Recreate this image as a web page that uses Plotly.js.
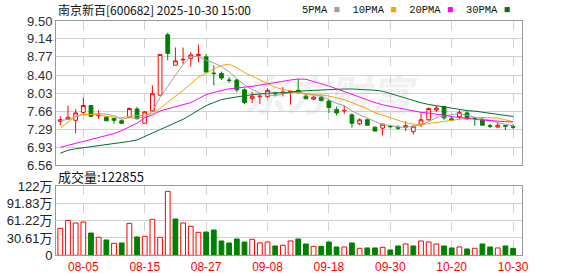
<!DOCTYPE html>
<html><head><meta charset="utf-8">
<script src="https://cdn.plot.ly/plotly-3.0.1.min.js"></script>
<style>html,body{margin:0;padding:0;background:#fff}#chart{width:578px;height:276px}</style>
</head><body><div id="chart"></div>
<script>
const dates = ['07-31','08-01','08-04','08-05','08-06','08-07','08-08','08-11','08-12','08-13','08-14','08-15',
  '08-18','08-19','08-20','08-21','08-22','08-25','08-26','08-27','08-28','08-29','09-01','09-02','09-03','09-04',
  '09-05','09-08','09-09','09-10','09-11','09-12','09-15','09-16','09-17','09-18','09-19','09-22','09-23','09-24',
  '09-25','09-26','09-29','09-30','10-09','10-10','10-13','10-14','10-15','10-16','10-17','10-20','10-21','10-22',
  '10-23','10-24','10-27','10-28','10-29','10-30'];
const openP  = [7.46,7.50,7.48,7.64,7.78,7.57,7.54,7.52,7.47,7.54,7.71,7.42,7.67,7.99,9.22,8.60,8.71,8.74,8.80,8.77,
  8.44,8.43,8.30,8.30,8.10,7.92,7.96,7.96,8.03,8.04,8.05,8.09,7.97,7.91,7.95,7.87,7.70,7.67,7.59,7.41,
  7.49,7.34,7.32,7.36,7.34,7.34,7.25,7.40,7.49,7.69,7.76,7.51,7.55,7.63,7.53,7.49,7.37,7.34,7.37,7.35];
const highP  = [7.56,7.78,7.71,7.94,7.79,7.69,7.57,7.52,7.50,7.74,7.75,7.67,8.19,8.82,9.26,8.96,8.96,8.87,9.02,8.83,
  8.60,8.47,8.36,8.33,8.13,8.06,8.01,8.13,8.06,8.16,8.08,8.32,8.03,7.98,7.98,7.90,7.76,7.78,7.62,7.52,
  7.52,7.35,7.41,7.38,7.38,7.46,7.37,7.62,7.74,7.77,7.77,7.55,7.69,7.66,7.55,7.55,7.41,7.44,7.37,7.40];
const lowP   = [7.38,7.49,7.21,7.61,7.54,7.50,7.46,7.41,7.40,7.54,7.50,7.42,7.66,7.99,8.70,8.60,8.62,8.57,8.66,8.46,
  8.19,8.30,8.24,8.05,7.81,7.83,7.81,7.93,7.97,7.97,7.80,8.03,7.90,7.89,7.87,7.63,7.58,7.61,7.33,7.38,
  7.38,7.26,7.17,7.31,7.29,7.26,7.19,7.34,7.47,7.65,7.49,7.47,7.50,7.50,7.37,7.37,7.32,7.34,7.28,7.30];
const closeP = [7.49,7.54,7.63,7.78,7.56,7.58,7.47,7.48,7.42,7.72,7.51,7.65,8.02,8.82,8.84,8.69,8.72,8.81,8.82,8.46,
  8.43,8.34,8.29,8.10,7.84,7.97,7.97,8.09,8.02,8.05,8.07,8.04,7.92,7.95,7.88,7.74,7.63,7.68,7.42,7.49,
  7.38,7.26,7.40,7.35,7.32,7.37,7.36,7.49,7.72,7.73,7.53,7.49,7.64,7.51,7.52,7.38,7.36,7.38,7.36,7.34];
// volume in 万 (10k lots)
const volume = [47.7,61.8,57.1,58.9,39.4,31.8,27.1,21.2,21.8,56.5,32.4,33.6,63.6,31.8,113.0,64.2,57.1,51.2,40.6,41.2,
  44.7,25.3,21.8,28.8,23.5,28.3,21.8,23.5,16.5,17.7,25.3,28.8,20.0,15.9,15.9,23.5,14.7,14.7,21.8,12.4,
  13.0,13.0,14.1,9.4,16.5,20.0,16.5,25.3,23.5,20.0,16.5,13.0,14.7,11.2,12.4,20.0,14.7,13.0,16.5,12.2855];
// moving-average values for days whose window starts before the shown range
const ma5Head  = [7.47,7.50,7.55,7.60];
const ma10Head = [7.32,7.44,7.56,7.60,7.59,7.59,7.56,7.54,7.53];
const ma20Head = [6.93,6.97,7.01,7.05,7.09,7.13,7.17,7.21,7.27,7.34,7.42,7.53,7.59,7.67,7.71,7.75,7.79,7.84,7.92];
const ma30Head = [6.81,6.87,6.90,6.92,6.94,6.96,6.98,7.00,7.02,7.05,7.08,7.15,7.22,7.29,7.35,7.42,7.50,7.59,7.68,
  7.78,7.84,7.90,7.93,7.96,7.98,8.00,8.02,8.03,8.04];
const priceTicks = [6.56,6.93,7.29,7.66,8.03,8.40,8.77,9.14,9.50];
const volTicks = [0,30.61,61.22,91.83,122.44];
const volTickText = ['0','30.61万','61.22万','91.83万','122万'];
const dateTicks = ['08-05','08-15','08-27','09-08','09-18','09-30','10-20','10-30'];
const maNames = ['5PMA','10PMA','20PMA','30PMA'];

function movingAvg(n, head){
  return closeP.map((c,i)=> i < head.length ? head[i]
    : closeP.slice(i-n+1,i+1).reduce((a,b)=>a+b,0)/n);
}
const maColors = ['#a0a0a0','#f5a300','#ff00ff','#00702e'];
const mas = [movingAvg(5,ma5Head),movingAvg(10,ma10Head),movingAvg(20,ma20Head),movingAvg(30,ma30Head)];

const RED='#ff0000', GREEN='#008000';
const volUp = volume.map((v,i)=> i===0 ? closeP[0]>=openP[0] : closeP[i]>=closeP[i-1]);

const traces = [{
  type:'candlestick', x:dates, open:openP, high:highP, low:lowP, close:closeP,
  xaxis:'x', yaxis:'y', whiskerwidth:0, hoverinfo:'none', showlegend:false,
  increasing:{line:{color:RED,width:1}, fillcolor:'#ffffff'},
  decreasing:{line:{color:GREEN,width:1}, fillcolor:GREEN}
}];
mas.forEach((m,k)=>traces.push({type:'scatter',mode:'lines',x:dates,y:m,xaxis:'x',yaxis:'y',
  line:{color:maColors[k],width:1},hoverinfo:'none',showlegend:false,name:maNames[k]}));
traces.push({type:'bar',x:dates,y:volume,xaxis:'x2',yaxis:'y2',width:0.62,hoverinfo:'none',showlegend:false,
  marker:{color:volUp.map(u=>u?'#ffffff':GREEN), line:{color:volUp.map(u=>u?RED:GREEN),width:1}}});

const gridC='#d2d2d2', borderC='#999999';
const xBase = {type:'category', range:[-0.56,60.16], tickvals:dateTicks, ticktext:dateTicks,
  showgrid:true, gridcolor:gridC, griddash:'dash', gridwidth:1, showline:true, mirror:true,
  linecolor:borderC, linewidth:1, ticks:'', zeroline:false, fixedrange:true};
const legendText = maNames.map((n,k)=>n+' <span style="color:'+maColors[k]+'">■</span>').join('  ');

const layout = {
  width:578, height:276, margin:{l:56,r:56,t:0,b:0},
  paper_bgcolor:'#ffffff', plot_bgcolor:'#ffffff', showlegend:false, boxgap:0.3,
  xaxis:Object.assign({}, xBase, {anchor:'y', showticklabels:false, rangeslider:{visible:false}}),
  xaxis2:Object.assign({}, xBase, {anchor:'y2', matches:'x', showticklabels:true,
    tickfont:{family:'Liberation Sans, Arial',size:12,color:'#ff0000'}}),
  yaxis:{domain:[0.4004,0.9239], range:[6.56,9.50], tickvals:priceTicks, ticktext:priceTicks.map(v=>v.toFixed(2)),
    showgrid:true, gridcolor:gridC, showline:true, mirror:true, linecolor:borderC, zeroline:false, ticks:'',
    tickfont:{family:'Liberation Sans, Arial',size:13,color:'#2a2f3a'}, fixedrange:true},
  yaxis2:{domain:[0.075,0.326], range:[0,122.44], tickvals:volTicks, ticktext:volTickText,
    showgrid:true, gridcolor:gridC, showline:true, mirror:true, linecolor:borderC, zeroline:false, ticks:'',
    tickfont:{family:'Liberation Sans, Noto Sans CJK SC',size:13,color:'#222222'}, fixedrange:true},
  annotations:[
    {xref:'paper',yref:'paper',x:0,y:0.9638,xanchor:'left',yanchor:'middle',showarrow:false,
     text:'南京新百[600682] 2025-10-30 15:00', font:{family:'Noto Sans CJK SC',size:12,color:'#111'}},
    {xref:'paper',yref:'paper',x:0.9785,y:0.9638,xanchor:'right',yanchor:'middle',showarrow:false,
     text:legendText, font:{family:'Liberation Mono',size:10.5,color:'#111'}},
    {xref:'paper',yref:'paper',x:0,y:0.3587,xanchor:'left',yanchor:'middle',showarrow:false,
     text:'成交量:'+Math.round(volume[volume.length-1]*10000), font:{family:'Noto Sans CJK SC',size:13,color:'#111'}},
    {xref:'paper',yref:'paper',x:0.59,y:0.665,xanchor:'center',yanchor:'middle',showarrow:false,
     text:'<b><i>东方财富</i></b>', font:{family:'Noto Sans CJK SC',size:42,color:'rgba(170,170,170,0.18)'}}
  ]
};
Plotly.newPlot('chart', traces, layout, {staticPlot:true, displayModeBar:false});
</script></body></html>
